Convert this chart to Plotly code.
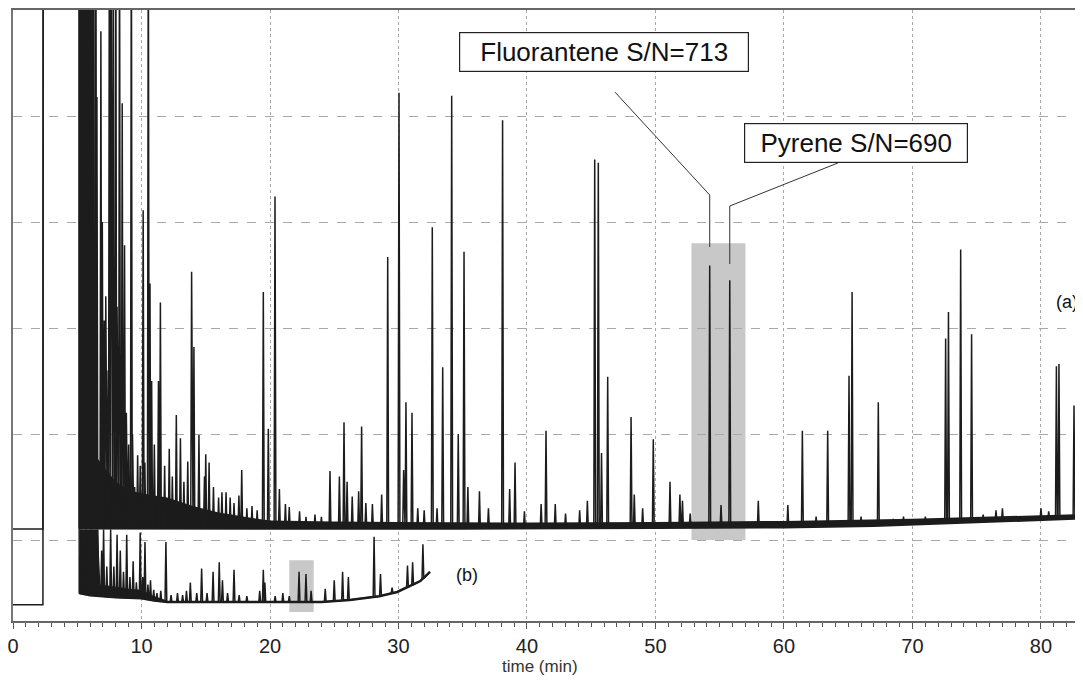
import numpy as np
import plotly.graph_objects as go

# ---------------- data ----------------
x_tick_vals = [0, 10, 20, 30, 40, 50, 60, 70, 80]
x_title = "time (min)"

# solvent front (both traces go off-scale between these times)
solvent_start, solvent_end = 2.35, 5.15
off_scale = 6.0

# trace (a): baseline knots
base_a_t = [0, 2.33, 5.15, 12, 20, 35, 50, 60, 67, 72, 77, 83.3]
base_a_v = [0.104, 0.104, 0.115, 0.113, 0.113, 0.113, 0.12, 0.125, 0.14, 0.16, 0.18, 0.21]
# trace (a): dense noise envelope
hump_a_t = [5.15, 5.2, 6.35, 6.4, 7.0, 8.0, 9.0, 10.0, 11.0, 12.0, 13.0, 14.0, 15.0,
            16.0, 17.0, 18.0, 19.0, 20.0, 25.0, 30.0, 40.0, 50.0, 60.0, 70.0, 83.3]
hump_a_v = [0.12, 6.0, 6.0, 0.8, 0.7, 0.55, 0.47, 0.44, 0.42, 0.4, 0.36, 0.32, 0.29,
            0.26, 0.24, 0.22, 0.2, 0.185, 0.175, 0.17, 0.165, 0.17, 0.18, 0.2, 0.245]
# trace (a): peaks (retention time, apex)
peak_a_t = [6.45, 6.53, 6.84, 6.95, 7.1, 7.22, 7.4, 7.5, 7.63, 7.8, 8.0, 8.1, 8.29, 8.5,
            8.68, 8.82, 9.0, 9.21, 9.3, 9.47, 9.7, 9.9,
            10.13, 10.26, 10.53, 10.66, 10.79, 11.0, 11.32, 11.47, 11.8, 12.16, 12.4, 12.71,
            13.03, 13.3, 13.6, 13.9, 14.08, 14.47, 14.9, 15.0, 15.26, 15.6, 16.0, 16.26,
            16.58, 16.9, 17.2, 17.58, 17.8, 18.2, 18.6, 19.0,
            19.48, 19.87, 20.39, 20.73, 21.2, 21.5, 22.3, 22.8, 23.5, 24.0, 24.67, 25.4,
            25.76, 26.0, 26.4, 26.9, 27.13, 27.46, 27.97, 28.69, 29.16, 30.04, 30.4,
            30.58, 31.05, 31.5, 32.0, 32.63, 33.0, 33.44, 34.14, 34.65, 35.1, 35.4,
            36.3, 37.0, 38.1, 38.65, 39.07, 39.8, 41.1, 41.48, 42.2, 43.0, 44.1, 44.7,
            45.27, 45.55, 45.8, 46.28, 48.1, 48.35, 49.0, 49.83, 51.13, 51.9, 52.1,
            52.7, 54.22, 55.1, 55.78, 58.0, 60.3, 61.43, 62.5, 63.4, 65.06, 65.3, 66.0,
            67.34, 68.5, 69.3, 71.0, 72.58, 72.8, 73.75, 74.6, 75.5, 76.5, 77.0, 80.0,
            80.6, 81.2, 81.4, 82.57]
peak_a_v = [6.0, 4.18, 4.8, 3.0, 2.07, 2.3, 1.6, 6.0, 6.0, 6.0, 6.0, 2.2, 6.0, 4.12,
            2.78, 1.2, 0.9, 6.0, 1.0, 0.5, 0.8, 0.7,
            3.11, 0.73, 6.0, 2.42, 1.5, 0.9, 1.5, 2.24, 0.7, 0.86, 0.6, 1.18,
            0.96, 0.55, 0.74, 2.53, 1.82, 0.99, 0.6, 0.81, 0.73, 0.5, 0.4, 0.45,
            0.45, 0.4, 0.35, 0.42, 0.66, 0.3, 0.32, 0.28,
            2.34, 1.05, 3.24, 0.48, 0.34, 0.31, 0.27, 0.22, 0.24, 0.22, 0.65, 0.6,
            1.11, 0.55, 0.41, 0.46, 1.07, 0.35, 0.34, 0.43, 2.67, 4.22, 0.66,
            1.3, 1.2, 0.3, 0.28, 2.95, 0.3, 1.63, 4.19, 1.0, 2.72, 0.5,
            0.46, 0.3, 3.96, 0.48, 0.73, 0.27, 0.34, 1.03, 0.34, 0.25, 0.28, 0.37,
            3.59, 3.56, 0.82, 1.54, 1.16, 0.43, 0.3, 0.95, 0.55, 0.43, 0.37,
            0.25, 2.59, 0.33, 2.45, 0.37, 0.33, 1.03, 0.22, 1.03, 1.55, 2.34, 0.22,
            1.3, 0.2, 0.22, 0.22, 1.9, 2.15, 2.74, 1.94, 0.24, 0.28, 0.3, 0.3,
            0.27, 1.64, 1.66, 1.27]

# trace (b): baseline knots
base_b_t = [0, 2.33, 5.15, 6.0, 8.0, 10.0, 11.0, 12.0, 20.0, 24.0, 26.2, 27.5, 28.5,
            29.9, 30.9, 31.7, 32.45]
base_b_v = [-0.61, -0.61, -0.5, -0.52, -0.54, -0.55, -0.57, -0.585, -0.585, -0.585,
            -0.565, -0.545, -0.53, -0.49, -0.434, -0.387, -0.30]
# trace (b): dense noise envelope
hump_b_t = [5.15, 5.2, 6.6, 6.8, 8.0, 9.0, 10.0, 10.5, 11.0, 12.0]
hump_b_v = [-0.5, 0.1, 0.1, -0.42, -0.44, -0.46, -0.47, -0.5, -0.53, -0.57]
# trace (b): peaks
peak_b_t = [5.3, 5.7, 6.1, 6.6, 6.9, 7.05, 7.3, 7.6, 7.85, 8.1, 8.35, 8.6, 8.85, 9.1,
            9.35, 9.6, 9.9, 10.1, 10.27, 10.5, 10.7, 10.95, 11.2, 11.5, 11.9, 12.3, 12.8,
            13.2, 13.5, 13.8, 14.3, 14.68, 15.1, 15.57, 16.05, 16.3, 16.7, 17.2, 17.6,
            18.2, 19.2, 19.48, 19.6, 20.4, 21.0, 21.5, 22.26, 22.8, 23.2, 24.3, 25.0,
            25.65, 26.1, 28.1, 28.6, 29.5, 30.7, 31.1, 31.9]
peak_b_v = [0.1, 0.1, 0.1, 0.1, -0.1, 0.1, -0.25, 0.1, -0.25, 0.05, -0.1, -0.3, 0.05,
            -0.35, -0.2, -0.4, 0.07, -0.35, -0.02, -0.42, -0.38, -0.47, -0.5, -0.48,
            -0.02, -0.52, -0.5, -0.52, -0.48, -0.4, -0.5, -0.27, -0.5, -0.3, -0.21,
            -0.38, -0.5, -0.28, -0.52, -0.53, -0.48, -0.28, -0.4, -0.53, -0.5, -0.53,
            -0.3, -0.32, -0.48, -0.46, -0.38, -0.3, -0.35, 0.03, -0.32, -0.45, -0.24,
            -0.21, -0.04]

# labelled compounds
flu_label, flu_t = "Fluorantene S/N=713", 54.22
pyr_label, pyr_t = "Pyrene S/N=690", 55.78
# highlighted windows (time from, time to, level from, level to)
hl_a = (52.8, 57.0, 0.0, 2.8)
hl_b = (21.5, 23.4, -0.68, -0.19)

# ---------------- figure ----------------
INK = "#1c1c1c"


def spike_path(base_t, base_v, pk_t, pk_v, t0, w):
    ev = [(t, 0, v) for t, v in zip(base_t, base_v) if t >= t0]
    ev += [(t, 1, v) for t, v in zip(pk_t, pk_v)]
    ev.sort()
    xs, ys = [], []
    for t, kind, v in ev:
        if kind == 0:
            xs.append(t); ys.append(v)
        else:
            b = float(np.interp(t, base_t, base_v))
            xs += [t - w, t, t + w]; ys += [b, v, b]
    return xs, ys


def trace_path(base_t, base_v, pk_t, pk_v, w=0.07):
    xs = [base_t[0], base_t[1], solvent_start, solvent_end]
    ys = [base_v[0], base_v[1], off_scale, off_scale]
    sx, sy = spike_path(base_t, base_v, pk_t, pk_v, solvent_end, w)
    return xs + sx, ys + sy


def hump_poly(ht, hv, base_t, base_v):
    lo = list(np.interp(ht, base_t, base_v))
    return list(ht) + list(ht)[::-1], list(hv) + lo[::-1]


fig = go.Figure()

# highlight boxes
for (t0, t1, v0, v1) in (hl_a, hl_b):
    fig.add_shape(type="rect", x0=t0, x1=t1, y0=v0, y1=v1, xref="x", yref="y",
                  fillcolor="#c8c8c8", line=dict(width=0), layer="below")

# trace (b)
hx, hy = hump_poly(hump_b_t, hump_b_v, base_b_t, base_b_v)
fig.add_trace(go.Scatter(x=hx, y=hy, fill="toself", fillcolor=INK, mode="none",
                         hoverinfo="skip", showlegend=False))
fig.add_trace(go.Scatter(x=[t for t in base_b_t if t >= solvent_end],
                         y=[v for t, v in zip(base_b_t, base_b_v) if t >= solvent_end],
                         mode="lines", line=dict(color=INK, width=2.5),
                         hoverinfo="skip", showlegend=False))
bx, by = trace_path(base_b_t, base_b_v, peak_b_t, peak_b_v)
fig.add_trace(go.Scatter(x=bx, y=by, mode="lines", line=dict(color=INK, width=1.5),
                         name="(b)", showlegend=False))

# trace (a)
hx, hy = hump_poly(hump_a_t, hump_a_v, base_a_t, base_a_v)
fig.add_trace(go.Scatter(x=hx, y=hy, fill="toself", fillcolor=INK, mode="none",
                         hoverinfo="skip", showlegend=False))
fig.add_trace(go.Scatter(x=[t for t in base_a_t if t >= solvent_end],
                         y=[v for t, v in zip(base_a_t, base_a_v) if t >= solvent_end],
                         mode="lines", line=dict(color=INK, width=3.5),
                         hoverinfo="skip", showlegend=False))
ax_, ay_ = trace_path(base_a_t, base_a_v, peak_a_t, peak_a_v)
fig.add_trace(go.Scatter(x=ax_, y=ay_, mode="lines", line=dict(color=INK, width=1.5),
                         name="(a)", showlegend=False))

# leader lines
fig.add_trace(go.Scatter(x=[46.85, flu_t, flu_t], y=[4.225, 3.255, 2.764], mode="lines",
                         line=dict(color="#333", width=1), hoverinfo="skip", showlegend=False))
fig.add_trace(go.Scatter(x=[64.2, pyr_t, pyr_t], y=[3.557, 3.151, 2.604], mode="lines",
                         line=dict(color="#333", width=1), hoverinfo="skip", showlegend=False))

box_font = dict(family="Arial, Liberation Sans, sans-serif", size=26, color="#111")
fig.add_annotation(x=45.99, y=4.60, xref="x", yref="y", text=flu_label, showarrow=False,
                   font=box_font, bgcolor="white", bordercolor="#222", borderwidth=1.2,
                   borderpad=3, width=282, height=32)
fig.add_annotation(x=65.6, y=3.745, xref="x", yref="y", text=pyr_label, showarrow=False,
                   font=box_font, bgcolor="white", bordercolor="#222", borderwidth=1.2,
                   borderpad=3, width=216, height=32)

lab_font = dict(family="Arial, Liberation Sans, sans-serif", size=18, color="#111")
fig.add_annotation(x=82.0, y=2.245, xref="x", yref="y", text="(a)", showarrow=False,
                   font=lab_font)
fig.add_annotation(x=35.33, y=-0.33, xref="x", yref="y", text="(b)", showarrow=False,
                   font=lab_font)

# page body has an 8 px margin: plot area is placed so it lands at 13..1083 x 10..621
W, H = 1075, 674
ML, MT, MR = 5, 2, 0
MB = H - 613
PW, PH = W - ML - MR, H - MT - MB

fig.add_annotation(x=(540 - 13) / PW, y=-(666 - 621) / PH, xref="paper", yref="paper",
                   text=x_title, showarrow=False, yanchor="middle",
                   font=dict(family="Liberation Sans Narrow, Arial Narrow, Liberation Sans, sans-serif",
                             size=17, color="#333"))

fig.update_layout(
    width=W, height=H,
    margin=dict(l=ML, r=MR, t=MT, b=MB, autoexpand=False),
    paper_bgcolor="white", plot_bgcolor="white",
    xaxis=dict(range=[0, 83.27], tickvals=x_tick_vals, showgrid=True, gridcolor="#a8a8a8",
               griddash="dot", gridwidth=1, zeroline=False, showline=True, linecolor="#666",
               linewidth=2, mirror=True, ticks="outside", ticklen=6, tickcolor="#555",
               ticklabeloverflow="allow",
               minor=dict(dtick=1, ticks="outside", ticklen=4, tickcolor="#555", showgrid=False),
               tickfont=dict(family="Liberation Sans Narrow, Arial Narrow, Liberation Sans, sans-serif",
                             size=20, color="#222")),
    yaxis=dict(range=[-0.764, 5.0], tick0=0, dtick=1, showticklabels=False, ticks="",
               showgrid=True, gridcolor="#a8a8a8", griddash="dash", gridwidth=1,
               zeroline=False, showline=True, linecolor="#777", linewidth=1.5),
)

fig.write_html("out.html")
